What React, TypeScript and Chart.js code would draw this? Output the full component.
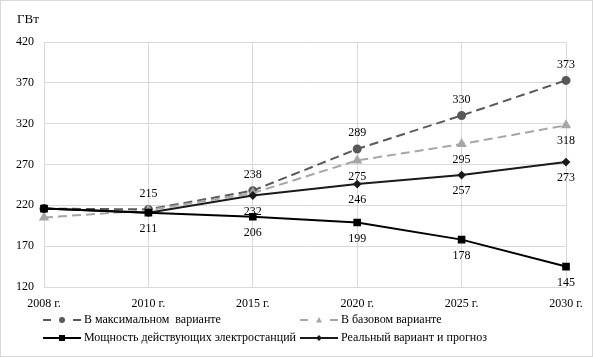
import React, { useEffect, useRef } from 'react';
import { Chart, registerables } from 'chart.js';

Chart.register(...registerables);

const categories = ['2008 г.', '2010 г.', '2015 г.', '2020 г.', '2025 г.', '2030 г.'];
const maxVariant = [216, 215, 238, 289, 330, 373];
const baseVariant = [205, 214, 235, 275, 295, 318];
const existingPlants = [216, 211, 206, 199, 178, 145];
const realForecast = [216, 211, 232, 246, 257, 273];

const maxShown = [false, true, true, true, true, true];
const baseShown = [false, false, false, true, true, true];
const plantsShown = [false, true, true, true, true, true];
const realShown = [false, false, true, true, true, true];

const seriesNames = [
  'В максимальном  варианте',
  'В базовом варианте',
  'Мощность действующих электростанций',
  'Реальный вариант и прогноз',
];

const yMin = 120;
const yMax = 420;
const yStep = 50;
const unitLabel = 'ГВт';

const FONT = "'Liberation Serif', 'Times New Roman', serif";

function drawMarker(ctx: CanvasRenderingContext2D, style: string, x: number, y: number, r: number, color: string) {
  ctx.save();
  ctx.fillStyle = color;
  ctx.strokeStyle = color;
  ctx.setLineDash([]);
  ctx.beginPath();
  if (style === 'circle') {
    ctx.arc(x, y, r, 0, Math.PI * 2);
  } else if (style === 'triangle') {
    ctx.moveTo(x, y - r);
    ctx.lineTo(x + r, y + r * 0.8);
    ctx.lineTo(x - r, y + r * 0.8);
    ctx.closePath();
  } else if (style === 'rect') {
    ctx.rect(x - r, y - r, 2 * r, 2 * r);
  } else if (style === 'rectRot') {
    ctx.moveTo(x, y - r);
    ctx.lineTo(x + r, y);
    ctx.lineTo(x, y + r);
    ctx.lineTo(x - r, y);
    ctx.closePath();
  }
  ctx.fill();
  ctx.restore();
}

const framePlugin = {
  id: 'frame',
  beforeDraw(chart: any) {
    const ctx = chart.ctx;
    ctx.save();
    ctx.fillStyle = '#ffffff';
    ctx.fillRect(0, 0, chart.width, chart.height);
    ctx.strokeStyle = '#d9d9d9';
    ctx.lineWidth = 1;
    ctx.strokeRect(0.5, 0.5, chart.width - 1, chart.height - 1);
    ctx.restore();
  },
  afterDraw(chart: any) {
    const ctx = chart.ctx;
    ctx.save();
    ctx.fillStyle = '#000';
    ctx.font = `13px ${FONT}`;
    ctx.textAlign = 'left';
    ctx.textBaseline = 'middle';
    ctx.fillText(unitLabel, 17, 20);
    ctx.restore();
  },
};

const valueLabelPlugin = {
  id: 'valueLabels',
  afterDatasetsDraw(chart: any) {
    const ctx = chart.ctx;
    ctx.save();
    ctx.font = `12px ${FONT}`;
    ctx.fillStyle = '#000';
    ctx.textAlign = 'center';
    ctx.textBaseline = 'middle';
    chart.data.datasets.forEach((ds: any, i: number) => {
      const meta = chart.getDatasetMeta(i);
      meta.data.forEach((pt: any, j: number) => {
        if (!ds.shown[j]) return;
        const dy = ds.labelPos === 'above' ? -16 : 16;
        ctx.fillText(String(ds.data[j]), pt.x, pt.y + dy);
      });
    });
    ctx.restore();
  },
};

const legendPlugin = {
  id: 'customLegend',
  afterDraw(chart: any) {
    const ctx = chart.ctx;
    const cols = [43, 300];
    const rows = [320, 338];
    ctx.save();
    ctx.font = `12px ${FONT}`;
    ctx.textBaseline = 'middle';
    ctx.textAlign = 'left';
    chart.data.datasets.forEach((ds: any, i: number) => {
      const x0 = cols[i % 2];
      const y = rows[Math.floor(i / 2)];
      ctx.strokeStyle = ds.borderColor;
      ctx.lineWidth = 2;
      ctx.beginPath();
      if (ds.borderDash && ds.borderDash.length) {
        ctx.moveTo(x0, y);
        ctx.lineTo(x0 + 8, y);
        ctx.moveTo(x0 + 30, y);
        ctx.lineTo(x0 + 38, y);
      } else {
        ctx.moveTo(x0, y);
        ctx.lineTo(x0 + 38, y);
      }
      ctx.stroke();
      drawMarker(ctx, ds.pointStyle, x0 + 19, y, ds.legendMarker, ds.pointBackgroundColor);
      ctx.fillStyle = '#000';
      ctx.fillText(ds.label, x0 + 41, y);
    });
    ctx.restore();
  },
};

export default function App() {
  const canvasRef = useRef<HTMLCanvasElement | null>(null);

  useEffect(() => {
    document.body.style.margin = '0';
    const canvas = canvasRef.current;
    if (!canvas) return;
    const chart = new Chart(canvas, {
      type: 'line',
      data: {
        labels: categories,
        datasets: [
          {
            label: seriesNames[0],
            data: maxVariant,
            borderColor: '#595959',
            backgroundColor: '#595959',
            pointBackgroundColor: '#595959',
            pointBorderColor: '#595959',
            borderWidth: 2,
            borderDash: [9, 5],
            pointStyle: 'circle',
            pointRadius: 3.5,
            order: 4,
            shown: maxShown,
            labelPos: 'above',
            legendMarker: 3,
          } as any,
          {
            label: seriesNames[1],
            data: baseVariant,
            borderColor: '#a6a6a6',
            backgroundColor: '#a6a6a6',
            pointBackgroundColor: '#a6a6a6',
            pointBorderColor: '#a6a6a6',
            borderWidth: 2,
            borderDash: [9, 5],
            pointStyle: 'triangle',
            pointRadius: 4,
            order: 3,
            shown: baseShown,
            labelPos: 'below',
            legendMarker: 3,
          } as any,
          {
            label: seriesNames[2],
            data: existingPlants,
            borderColor: '#000000',
            backgroundColor: '#000000',
            pointBackgroundColor: '#000000',
            pointBorderColor: '#000000',
            borderWidth: 2,
            pointStyle: 'rect',
            pointRadius: 4,
            order: 1,
            shown: plantsShown,
            labelPos: 'below',
            legendMarker: 3,
          } as any,
          {
            label: seriesNames[3],
            data: realForecast,
            borderColor: '#1a1a1a',
            backgroundColor: '#1a1a1a',
            pointBackgroundColor: '#1a1a1a',
            pointBorderColor: '#1a1a1a',
            borderWidth: 2,
            pointStyle: 'rectRot',
            pointRadius: 3,
            order: 2,
            shown: realShown,
            labelPos: 'below',
            legendMarker: 3,
          } as any,
        ],
      },
      options: {
        responsive: false,
        animation: false,
        events: [],
        layout: { padding: { top: 42, right: 27, bottom: 0, left: 0 } },
        plugins: {
          legend: { display: false },
          tooltip: { enabled: false },
          title: { display: false },
        },
        elements: { line: { tension: 0 } },
        scales: {
          x: {
            type: 'category',
            offset: false,
            grid: { color: '#d9d9d9', drawTicks: false, lineWidth: 1 },
            border: { color: '#d9d9d9' },
            ticks: {
              color: '#000',
              font: { family: FONT, size: 12 },
              padding: 10,
              maxRotation: 0,
              autoSkip: false,
            },
            afterFit: (s: any) => {
              s.height = 70;
            },
          },
          y: {
            min: yMin,
            max: yMax,
            grid: { color: '#d9d9d9', drawTicks: false, lineWidth: 1 },
            border: { color: '#d9d9d9' },
            ticks: {
              stepSize: yStep,
              color: '#000',
              font: { family: FONT, size: 12 },
              padding: 10,
            },
            afterFit: (s: any) => {
              s.width = 44;
            },
          },
        },
      } as any,
      plugins: [framePlugin, valueLabelPlugin, legendPlugin],
    });
    return () => chart.destroy();
  }, []);

  return (
    <div style={{ width: 593, height: 357 }}>
      <canvas ref={canvasRef} width={593} height={357} style={{ display: 'block', width: 593, height: 357 }} />
    </div>
  );
}
